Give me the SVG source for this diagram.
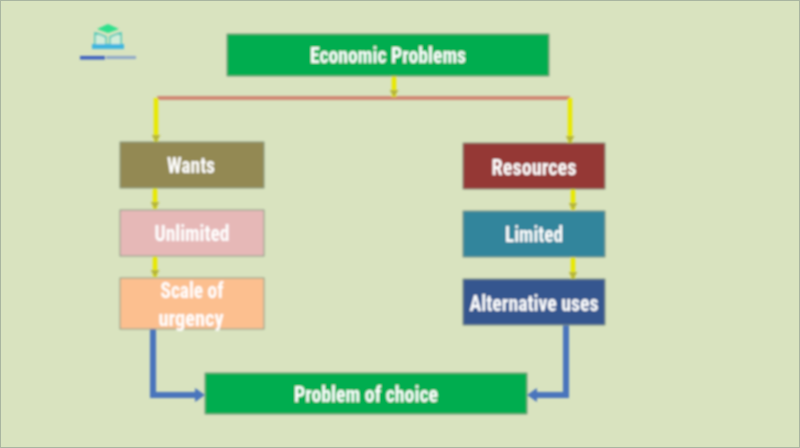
<svg xmlns="http://www.w3.org/2000/svg" width="800" height="448" viewBox="0 0 800 448">
<style>
.n{stroke:#8a9a86;stroke-width:1}
.t{font-family:"Roboto Condensed","Liberation Sans Narrow","Liberation Sans",sans-serif;font-weight:700;font-size:22px;fill:#fff;text-anchor:middle}
.y{fill:none;stroke:#e8e800;stroke-width:4.500}
.b{fill:none;stroke:#4a74bc;stroke-width:6}
</style>
<defs>
<filter id="s" x="-5%" y="-5%" width="110%" height="110%"><feGaussianBlur stdDeviation="0.8"/></filter>
<marker id="ay" markerWidth="9" markerHeight="9" refX="7" refY="4.500" orient="auto" markerUnits="userSpaceOnUse"><path d="M0 0L7 4.500L0 9Z" fill="#b5b53a"/></marker>
<marker id="ab" markerWidth="10" markerHeight="14" refX="10" refY="7" orient="auto" markerUnits="userSpaceOnUse"><path d="M0 0L10 7L0 14Z" fill="#4a74bc"/></marker>
</defs>
<rect width="800" height="448" fill="#d9e3bf"/>
<rect x="0.5" y="0.5" width="799" height="447" fill="none" stroke="#a9b5a0"/>
<g filter="url(#s)">
<g id="logo">
<path d="M97 29L108 24L119 29L108 33Z" fill="#2fe08c"/>
<path d="M95 33V45H106V37Q100 34 95 33ZM121 33V45H110V37Q116 34 121 33Z" fill="#d2ecd8" stroke="#45c8b8" stroke-width="1.500"/>
<rect x="92" y="44" width="32" height="5" fill="#3fb6e0"/>
<rect x="80" y="56" width="25" height="3.500" fill="#3a5fc0"/>
<rect x="106" y="56" width="30" height="3" fill="#8fa8c8"/>
</g>
<g id="connectors">
<path d="M157 98H570" fill="none" stroke="#cf7f6c" stroke-width="3.500"/>
<path class="y" d="M394 76V97" marker-end="url(#ay)"/>
<path class="y" d="M156 98V142" marker-end="url(#ay)"/>
<path class="y" d="M570 98V143" marker-end="url(#ay)"/>
<path class="y" d="M155 188V209" marker-end="url(#ay)"/>
<path class="y" d="M155 256V277" marker-end="url(#ay)"/>
<path class="y" d="M573 189V210" marker-end="url(#ay)"/>
<path class="y" d="M573 257V279" marker-end="url(#ay)"/>
<path class="b" d="M153 329V395H196"/>
<path class="b" d="M566 325V395H536"/>
<path d="M195 388L205 395L195 402Z" fill="#4a74bc"/>
<path d="M537 388L527 395L537 402Z" fill="#4a74bc"/>
</g>
<g id="economic-problems"><rect class="n" x="227" y="34" width="322" height="42" fill="#00ad50"/><text class="t" x="388" y="63" textLength="156" lengthAdjust="spacingAndGlyphs">Economic Problems</text></g>
<g id="wants"><rect class="n" x="120" y="142" width="144" height="46" fill="#938953"/><text class="t" x="191" y="173" textLength="48" lengthAdjust="spacingAndGlyphs">Wants</text></g>
<g id="unlimited"><rect class="n" x="120" y="210" width="144" height="46" fill="#e6b8b7"/><text class="t" x="192" y="241" textLength="75" lengthAdjust="spacingAndGlyphs">Unlimited</text></g>
<g id="scale"><rect class="n" x="120" y="278" width="144" height="51" fill="#fcbf8f"/><text class="t" x="192" y="298" textLength="63" lengthAdjust="spacingAndGlyphs">Scale of</text><text class="t" x="191" y="326" textLength="65" lengthAdjust="spacingAndGlyphs">urgency</text></g>
<g id="resources"><rect class="n" x="463" y="143" width="142" height="46" fill="#953735"/><text class="t" x="534" y="175" textLength="85" lengthAdjust="spacingAndGlyphs">Resources</text></g>
<g id="limited"><rect class="n" x="463" y="211" width="142" height="46" fill="#31859c"/><text class="t" x="534" y="242" textLength="58" lengthAdjust="spacingAndGlyphs">Limited</text></g>
<g id="alternative-uses"><rect class="n" x="463" y="279" width="142" height="46" fill="#34578f"/><text class="t" x="534" y="311" textLength="129" lengthAdjust="spacingAndGlyphs">Alternative uses</text></g>
<g id="problem-of-choice"><rect class="n" x="205" y="373" width="322" height="41" fill="#00ad50"/><text class="t" x="366" y="402" textLength="144" lengthAdjust="spacingAndGlyphs">Problem of choice</text></g>
</g>
</svg>
